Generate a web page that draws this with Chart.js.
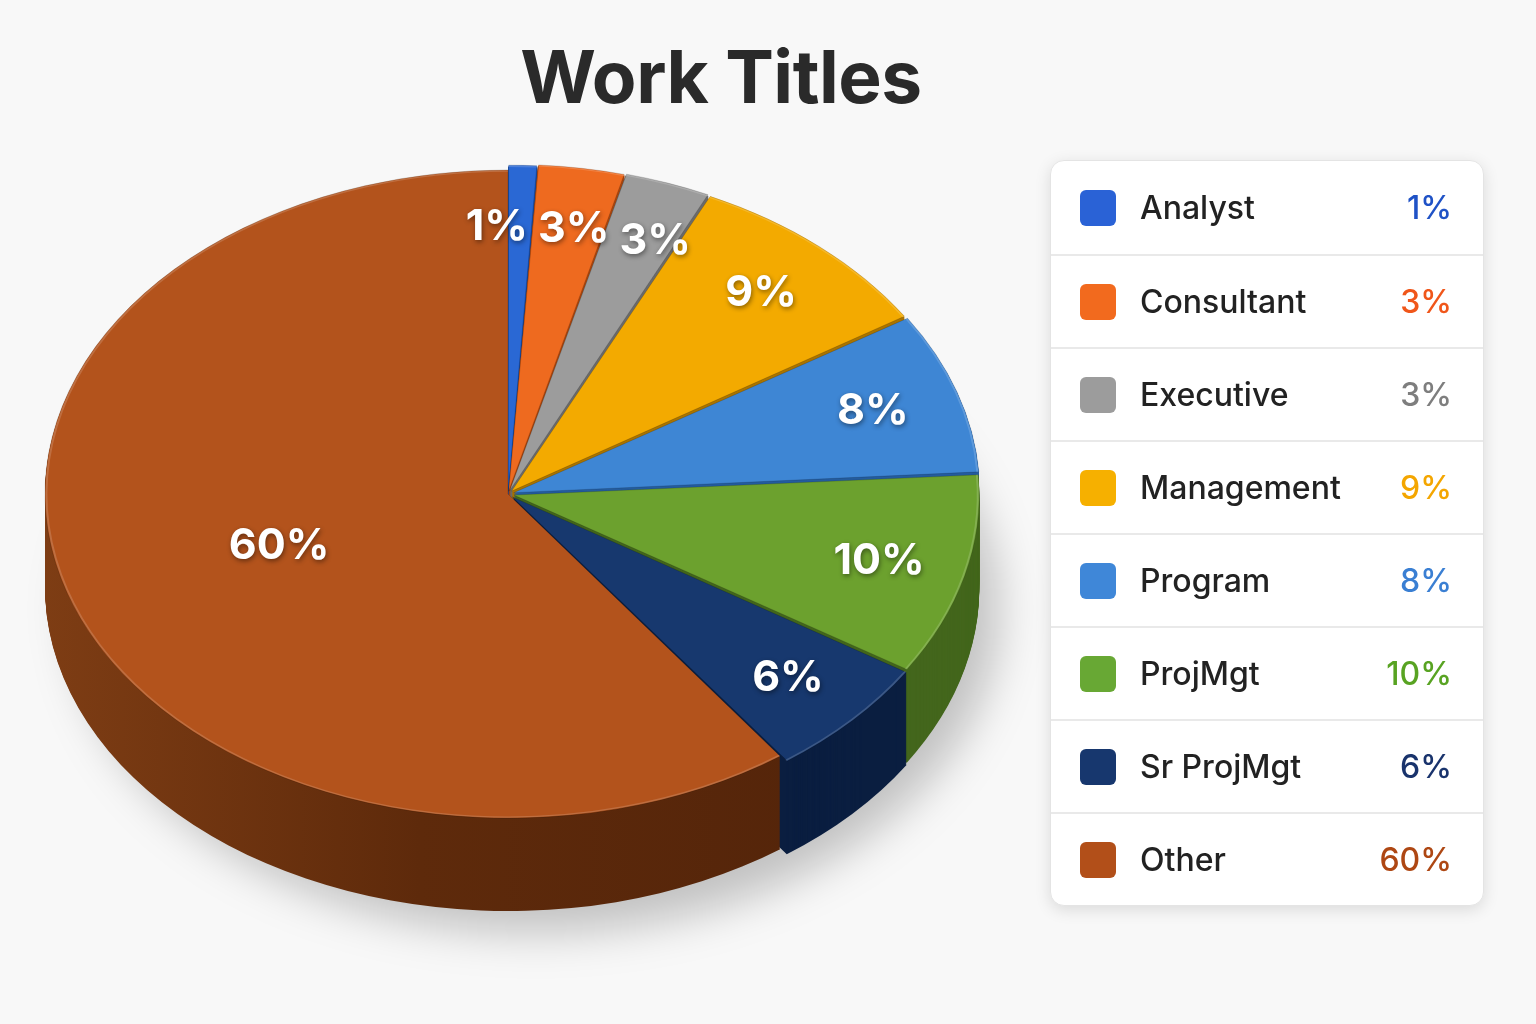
<!DOCTYPE html>
<html><head><meta charset="utf-8">
<script src="https://cdn.jsdelivr.net/npm/chart.js@4.4.1/dist/chart.umd.min.js"></script>
<style>
html,body{margin:0;padding:0;background:#f8f8f8;width:1536px;height:1024px;overflow:hidden;font-family:Inter,"Noto Sans",sans-serif;}
#title{position:absolute;left:0;width:1442px;top:32px;text-align:center;font-size:73px;font-weight:700;color:#2a2a2a;letter-spacing:-0.5px;z-index:2;}
#wrap{position:absolute;left:0;top:0;width:1050px;height:1016px;}
#legend{position:absolute;left:1050px;top:160px;width:434px;height:746px;background:#fff;border-radius:14px;box-shadow:0 4px 16px rgba(0,0,0,0.12);border:1px solid #e4e4e4;box-sizing:border-box;overflow:hidden;z-index:2;}
.row{height:93px;display:flex;align-items:center;border-top:2px solid #e9e9e9;box-sizing:border-box;position:relative;}
.row:first-child{border-top:none;}
.sw{width:36px;height:36px;border-radius:6px;margin-left:29px;flex:none;}
.lab{margin-left:24px;font-size:32px;font-weight:500;color:#222;}
.pct{position:absolute;right:31px;font-size:32px;font-weight:500;}
</style></head>
<body>
<div id="title">Work Titles</div>
<div id="wrap"><canvas id="c"></canvas></div>
<div id="legend"></div>
<script>
// ---- data ----
const categories = ['Analyst','Consultant','Executive','Management','Program','ProjMgt','Sr ProjMgt','Other'];
const shares = [1, 3, 3, 9, 8, 10, 6, 60];

// ---- styles ----
const topColors   = ['#2A68D4','#EE6A1F','#9C9C9C','#F3AA00','#3E86D4','#6CA12E','#17386E','#B3531C'];
const wallColors  = ['#1A4A9E','#A9460F','#6A6A6A','#A97400','#245C9E','#43661C','#0A1E40','#62300F'];
const swatchColors= ['#2A62D6','#F26A1E','#9C9C9C','#F6B000','#3F87D8','#68A834','#17376E','#B24F19'];
const pctColors   = ['#1F52C6','#F0561A','#7E7E7E','#F4A600','#3A7FD3','#58A322','#19336C','#AE4713'];
const sliceOffsets= [14, 18, 20, 22, 24, 24, 24, 0];

const CY_TARGET = 494, K = 0.70, DEPTH = 93;

// legend
const lg = document.getElementById('legend');
categories.forEach((c,i)=>{
  const r = document.createElement('div'); r.className='row';
  r.innerHTML = '<div class="sw" style="background:'+swatchColors[i]+'"></div><div class="lab">'+c+'</div><div class="pct" style="color:'+pctColors[i]+'">'+shares[i]+'%</div>';
  lg.appendChild(r);
});

function applyTilt(ctx, chart){
  const cy = (chart.chartArea.top + chart.chartArea.bottom)/2;
  ctx.translate(0, CY_TARGET); ctx.scale(1, K); ctx.translate(0, -cy);
}
function geom(el){
  const p = el.getProps(['x','y','startAngle','endAngle','outerRadius']);
  const off = (el.options.offset||0)/4;
  const half = (p.startAngle+p.endAngle)/2;
  const circ = p.endAngle - p.startAngle;
  const r = p.outerRadius + off*(1 - Math.sin(Math.min(Math.PI, circ)));
  return {x:p.x+Math.cos(half)*off, y:p.y+Math.sin(half)*off, r, s:p.startAngle, e:p.endAngle, half};
}
function slicePath(ctx, el, dy){
  const g = geom(el);
  ctx.beginPath();
  ctx.moveTo(g.x, g.y+dy);
  ctx.arc(g.x, g.y+dy, g.r, g.s, g.e);
  ctx.closePath();
}

const pie3d = {
  id:'pie3d',
  beforeDatasetsDraw(chart){
    const ctx = chart.ctx, meta = chart.getDatasetMeta(0);
    const cx = (chart.chartArea.left + chart.chartArea.right)/2;
    const R = meta.data[0].outerRadius;
    // soft ground shadow
    ctx.save();
    ctx.filter = 'blur(22px)';
    ctx.fillStyle = 'rgba(0,0,0,0.22)';
    ctx.beginPath();
    ctx.ellipse(cx + 28, CY_TARGET + DEPTH + 22, R, R*K, 0, 0, Math.PI*2);
    ctx.fill();
    ctx.restore();

    ctx.save();
    applyTilt(ctx, chart);
    const grad = ctx.createLinearGradient(40,0,800,0);
    grad.addColorStop(0,'#7E3D14'); grad.addColorStop(0.5,'#5E2A0B'); grad.addColorStop(1,'#55250A');
    const fills = wallColors.map((c,i)=> i===wallColors.length-1 ? grad : c);
    for(let d=DEPTH; d>=1; d-=1){
      meta.data.forEach((el,i)=>{ slicePath(ctx, el, d/K); ctx.fillStyle=fills[i]; ctx.fill(); });
    }
  },
  afterDatasetsDraw(chart){
    const ctx = chart.ctx, meta = chart.getDatasetMeta(0);
    meta.data.forEach((el)=>{
      const g = geom(el);
      ctx.beginPath(); ctx.arc(g.x, g.y, g.r-1.5, g.s, g.e);
      ctx.lineWidth=2; ctx.strokeStyle='rgba(255,255,255,0.16)'; ctx.stroke();
    });
    ctx.restore();
    const cy = (chart.chartArea.top + chart.chartArea.bottom)/2;
    ctx.save();
    ctx.font = '700 43px Inter, "Noto Sans", sans-serif';
    ctx.textAlign='center'; ctx.textBaseline='middle';
    const labs = meta.data.map((el,i)=>{
      const g = geom(el);
      const frac = shares[i] >= 50 ? 0.52 : 0.81;
      const px = g.x + Math.cos(g.half)*g.r*frac;
      const py = g.y + Math.sin(g.half)*g.r*frac;
      const t = shares[i]+'%';
      return {t, x:px, y:CY_TARGET + (py-cy)*K, w:ctx.measureText(t).width};
    });
    for(let it=0; it<10; it++){
      for(let i=0;i<labs.length-1;i++){
        const a=labs[i], b=labs[i+1];
        if(Math.abs(a.y-b.y) < 44){
          const need = (a.w+b.w)/2 + 10;
          const dx = b.x - a.x;
          if(Math.abs(dx) < need){
            const s = (need-Math.abs(dx))/2 * (dx>=0?1:-1);
            a.x -= s; b.x += s;
          }
        }
      }
    }
    ctx.shadowColor='rgba(0,0,0,0.45)'; ctx.shadowBlur=5; ctx.shadowOffsetX=1; ctx.shadowOffsetY=2;
    ctx.fillStyle='#ffffff';
    labs.forEach(l=>ctx.fillText(l.t, l.x, l.y));
    ctx.restore();
  }
};

new Chart(document.getElementById('c'), {
  type:'pie',
  data:{ labels:categories, datasets:[{
    data:shares,
    backgroundColor:topColors,
    borderColor:'rgba(0,0,0,0.18)',
    borderWidth:1,
    offset:sliceOffsets,
    clip:false
  }]},
  options:{
    responsive:true, maintainAspectRatio:false, animation:false,
    rotation:0,
    radius:463,
    layout:{padding:{left:35,right:69,top:35,bottom:35}},
    plugins:{legend:{display:false}, tooltip:{enabled:false}, title:{display:false}}
  },
  plugins:[pie3d]
});
</script>
</body></html>
